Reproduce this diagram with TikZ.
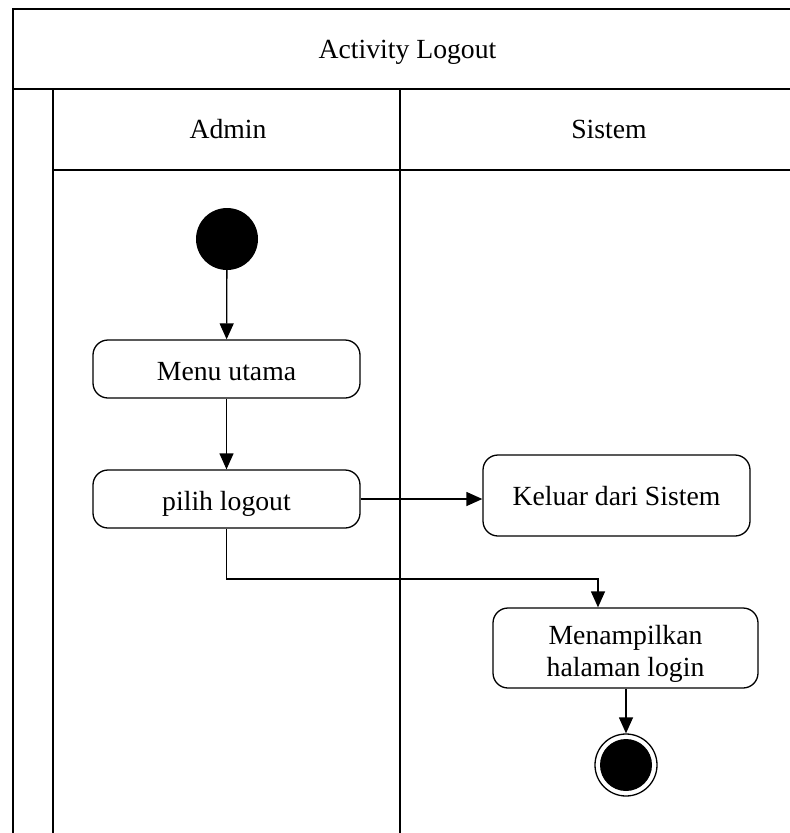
\documentclass[tikz,border=0pt]{standalone}
\usepackage{fontspec}
\setmainfont{Liberation Serif}
\usetikzlibrary{arrows.meta}
\begin{document}
\begin{tikzpicture}[x=1pt,y=-1pt,
  every node/.style={font=\fontsize{27.7}{32}\selectfont},
  frame/.style={line width=1.8pt},
  act/.style={draw, line width=1.3pt, rounded corners=15pt, align=center, inner sep=0pt},
  oneline/.style={text height=22pt, text depth=0pt},
  arr/.style={line width=1.3pt, -{Triangle[length=16pt,width=14pt]}},
  startnode/.style={circle, fill=black, minimum size=62pt, inner sep=0pt},
  endouter/.style={circle, draw, line width=1.3pt, minimum size=62pt, inner sep=0pt},
  endinner/.style={circle, fill=black, minimum size=52pt, inner sep=0pt}]
\useasboundingbox (0,0) rectangle (790,833);
\clip (0,0) rectangle (790,833);
% swimlane frame
\draw[frame] (13,900) -- (13,9) -- (830,9);
\draw[frame] (13,89) -- (830,89);
\draw[frame] (53,900) -- (53,89);
\draw[frame] (53,170) -- (830,170);
\draw[frame] (400,900) -- (400,89);
\node[anchor=base] (title) at (407.5,58.3) {Activity Logout};
\node[anchor=base] (admin) at (228,138.3) {Admin};
\node[anchor=base] (sistem) at (609,138.3) {Sistem};
% activity nodes
\node[startnode] (start) at (227,239) {};
\node[act, oneline, minimum width=267pt, minimum height=58pt] (menu) at (226.5,369) {Menu utama};
\node[act, oneline, minimum width=267pt, minimum height=58pt] (pilih) at (226.5,499) {pilih logout};
\node[act, text height=19pt, text depth=0pt, minimum width=267pt, minimum height=81pt] (keluar) at (616.5,495.5) {Keluar dari Sistem};
\node[act, minimum width=265pt, minimum height=80pt] (tampil) at (625.5,648) {\rule{0pt}{30pt}Menampilkan\\halaman login};
\node[endouter] (endo) at (626,765) {};
\node[endinner] (endi) at (626,765) {};
% connectors
\draw[arr] (start) -- (menu);
\draw[arr] (menu) -- (pilih);
\draw[arr] (pilih.east) -- (pilih.east -| keluar.west);
\coordinate (bend) at (598,579);
\draw[arr] (pilih.south) |- (bend) -- (bend |- tampil.north);
\draw[arr] (tampil.south -| endo) -- (endo.north);
\end{tikzpicture}
\end{document}
